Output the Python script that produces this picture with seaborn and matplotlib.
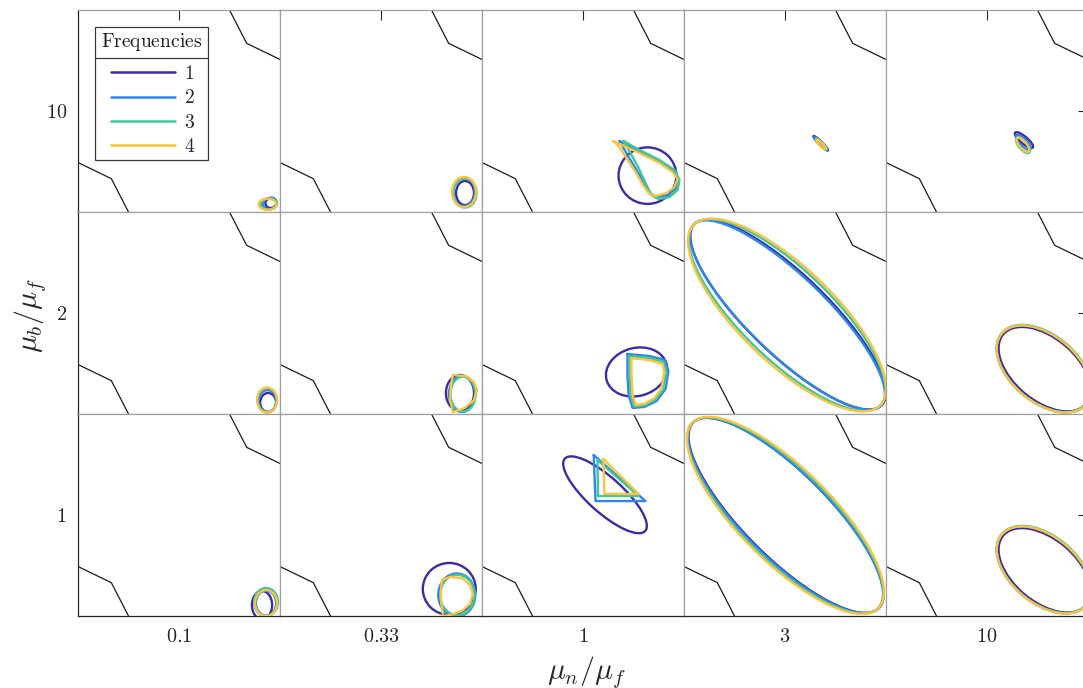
import matplotlib

matplotlib.use("Agg")

import matplotlib.pyplot as plt
import seaborn as sns
from matplotlib.lines import Line2D
from matplotlib.patches import Ellipse, Rectangle

sns.set_theme(style="white")
plt.rcParams.update({
    "font.family": ["DejaVu Serif"],
    "mathtext.fontset": "cm",
    "figure.facecolor": "white",
    "axes.facecolor": "white",
})

# Axis categories
mu_n_labels = ["0.1", "0.33", "1", "3", "10"]
mu_b_labels = ["10", "2", "1"]          # top row to bottom row
freq_labels = ["1", "2", "3", "4"]
freq_colors = ["#3b2ca6", "#2f87ec", "#3ec79b", "#fbc23c"]

# Boundary polylines drawn in every panel (panel-local units)
bound_up_x = [0.75, 0.835, 1.0]
bound_up_y = [1.0, 0.835, 0.755]
bound_lo_x = [0.0, 0.165, 0.25]
bound_lo_y = [0.245, 0.165, 0.0]

# Elliptic loops: (row, col, freq, cx, cy, width, height, angle)
ellipses_b10 = [
    (0, 0, 0, 0.955, 0.045, 0.055, 0.050, 20),
    (0, 0, 1, 0.950, 0.042, 0.070, 0.055, 10),
    (0, 0, 2, 0.945, 0.040, 0.080, 0.055, 5),
    (0, 0, 3, 0.938, 0.038, 0.088, 0.055, 0),
    (0, 1, 0, 0.916, 0.094, 0.089, 0.119, 0),
    (0, 1, 1, 0.911, 0.099, 0.109, 0.139, 0),
    (0, 1, 2, 0.916, 0.094, 0.114, 0.144, 0),
    (0, 1, 3, 0.911, 0.099, 0.119, 0.149, 0),
    (0, 2, 0, 0.819, 0.180, 0.286, 0.280, 0),
    (0, 3, 0, 0.677, 0.340, 0.100, 0.016, -45),
    (0, 3, 1, 0.678, 0.338, 0.090, 0.016, -45),
    (0, 3, 2, 0.679, 0.336, 0.075, 0.016, -45),
    (0, 3, 3, 0.679, 0.335, 0.065, 0.016, -45),
    (0, 4, 0, 0.683, 0.356, 0.114, 0.035, -40),
    (0, 4, 1, 0.680, 0.345, 0.100, 0.035, -45),
    (0, 4, 2, 0.678, 0.330, 0.095, 0.040, -50),
    (0, 4, 3, 0.678, 0.332, 0.088, 0.035, -50),
]
ellipses_b2 = [
    (1, 0, 0, 0.941, 0.057, 0.079, 0.094, 0),
    (1, 0, 1, 0.938, 0.064, 0.089, 0.109, 0),
    (1, 0, 2, 0.936, 0.069, 0.094, 0.119, 0),
    (1, 0, 3, 0.936, 0.069, 0.099, 0.124, 0),
    (1, 1, 0, 0.891, 0.104, 0.139, 0.178, 0),
    (1, 1, 1, 0.901, 0.099, 0.129, 0.178, 0),
    (1, 1, 2, 0.906, 0.099, 0.124, 0.173, 0),
    (1, 2, 0, 0.765, 0.208, 0.307, 0.238, 15),
    (1, 3, 0, 0.515, 0.492, 1.290, 0.395, -44),
    (1, 3, 1, 0.512, 0.490, 1.290, 0.385, -44),
    (1, 3, 2, 0.510, 0.490, 1.285, 0.445, -44),
    (1, 3, 3, 0.510, 0.490, 1.285, 0.470, -44),
    (1, 4, 0, 0.785, 0.222, 0.535, 0.310, -40),
    (1, 4, 1, 0.782, 0.223, 0.545, 0.327, -40),
    (1, 4, 2, 0.782, 0.225, 0.545, 0.330, -40),
    (1, 4, 3, 0.782, 0.223, 0.545, 0.327, -40),
]
ellipses_b1 = [
    (2, 0, 0, 0.911, 0.054, 0.100, 0.140, 0),
    (2, 0, 1, 0.931, 0.064, 0.100, 0.124, 0),
    (2, 0, 2, 0.931, 0.069, 0.118, 0.139, 0),
    (2, 0, 3, 0.931, 0.064, 0.109, 0.129, 0),
    (2, 1, 0, 0.838, 0.134, 0.262, 0.257, 0),
    (2, 1, 1, 0.875, 0.104, 0.183, 0.213, 0),
    (2, 1, 2, 0.878, 0.104, 0.170, 0.200, 0),
    (2, 2, 0, 0.609, 0.600, 0.535, 0.173, -42),
    (2, 3, 0, 0.505, 0.498, 1.300, 0.420, -45),
    (2, 3, 1, 0.502, 0.498, 1.300, 0.425, -45),
    (2, 3, 2, 0.502, 0.498, 1.300, 0.445, -45),
    (2, 3, 3, 0.502, 0.498, 1.300, 0.460, -45),
    (2, 4, 0, 0.785, 0.226, 0.535, 0.310, -40),
    (2, 4, 1, 0.782, 0.228, 0.545, 0.327, -40),
    (2, 4, 2, 0.782, 0.230, 0.545, 0.330, -40),
    (2, 4, 3, 0.782, 0.228, 0.545, 0.327, -40),
]

# Angular loops: vertex lists (panel-local units)
loop_b10_n1_f2 = [(0.681, 0.351), (0.780, 0.297), (0.879, 0.248), (0.948, 0.203), (0.973, 0.158),
                  (0.958, 0.114), (0.918, 0.084), (0.864, 0.074), (0.829, 0.094), (0.804, 0.139),
                  (0.765, 0.208), (0.720, 0.282)]
loop_b10_n1_f3 = [(0.700, 0.351), (0.780, 0.307), (0.879, 0.257), (0.953, 0.208), (0.978, 0.158),
                  (0.968, 0.109), (0.928, 0.074), (0.874, 0.064), (0.839, 0.084), (0.809, 0.144),
                  (0.775, 0.218), (0.735, 0.292)]
loop_b10_n1_f4 = [(0.651, 0.351), (0.780, 0.292), (0.879, 0.243), (0.943, 0.198), (0.968, 0.163),
                  (0.953, 0.124), (0.913, 0.094), (0.859, 0.079), (0.829, 0.089), (0.800, 0.129),
                  (0.760, 0.198), (0.715, 0.267), (0.676, 0.327)]
loop_b2_n033_f4 = [(0.856, 0.193), (0.921, 0.188), (0.960, 0.158), (0.975, 0.119), (0.960, 0.069),
                   (0.916, 0.030), (0.856, 0.010), (0.842, 0.069), (0.847, 0.144)]
loop_b2_n1_f2 = [(0.720, 0.297), (0.829, 0.287), (0.904, 0.268), (0.923, 0.213), (0.909, 0.124),
                 (0.864, 0.064), (0.804, 0.035), (0.745, 0.030), (0.726, 0.094), (0.720, 0.193)]
loop_b2_n1_f3 = [(0.730, 0.287), (0.829, 0.277), (0.899, 0.258), (0.913, 0.208), (0.899, 0.124),
                 (0.859, 0.072), (0.804, 0.042), (0.752, 0.037), (0.736, 0.094), (0.730, 0.193)]
loop_b2_n1_f4 = [(0.740, 0.277), (0.829, 0.267), (0.894, 0.248), (0.903, 0.208), (0.889, 0.129),
                 (0.854, 0.079), (0.804, 0.050), (0.760, 0.045), (0.745, 0.094), (0.740, 0.193)]
loop_b1_n033_f4 = [(0.802, 0.178), (0.842, 0.193), (0.901, 0.188), (0.941, 0.153), (0.955, 0.109),
                   (0.941, 0.059), (0.901, 0.025), (0.842, 0.005), (0.807, 0.000), (0.797, 0.079),
                   (0.797, 0.129)]
loop_b1_n1_f2 = [(0.553, 0.797), (0.562, 0.569), (0.809, 0.569)]
loop_b1_n1_f3 = [(0.572, 0.772), (0.574, 0.594), (0.775, 0.594)]
loop_b1_n1_f4 = [(0.601, 0.777), (0.606, 0.604), (0.775, 0.604)]

polygon_loops = [
    (0, 2, 1, loop_b10_n1_f2), (0, 2, 2, loop_b10_n1_f3), (0, 2, 3, loop_b10_n1_f4),
    (1, 1, 3, loop_b2_n033_f4),
    (1, 2, 1, loop_b2_n1_f2), (1, 2, 2, loop_b2_n1_f3), (1, 2, 3, loop_b2_n1_f4),
    (2, 1, 3, loop_b1_n033_f4),
    (2, 2, 1, loop_b1_n1_f2), (2, 2, 2, loop_b1_n1_f3), (2, 2, 3, loop_b1_n1_f4),
]

# Figure layout (pixels of a 1083x688 canvas)
W, H = 1083, 688
fig = plt.figure(figsize=(W / 100, H / 100), dpi=100)
left_px, top_px, cell_px = 78, 10, 202
dark = "#262626"
sep = "#a0a0a0"
loop_lw = 1.7

axes = {}
for r in range(3):
    for c in range(5):
        x0 = (left_px + c * cell_px) / W
        y0 = 1 - (top_px + (r + 1) * cell_px) / H
        ax = fig.add_axes([x0, y0, cell_px / W, cell_px / H])
        ax.set_xlim(0, 1)
        ax.set_ylim(0, 1)
        ax.set_xticks([])
        ax.set_yticks([])
        for side, sp in ax.spines.items():
            sp.set_visible(True)
            sp.set_color(sep)
            sp.set_linewidth(0.9)
        if c == 0:
            ax.spines["left"].set_color(dark)
        if r == 2:
            ax.spines["bottom"].set_color(dark)
        axes[(r, c)] = ax

        sns.lineplot(x=bound_up_x, y=bound_up_y, sort=False, estimator=None,
                     color="#1a1a1a", lw=0.9, ax=ax, legend=False)
        sns.lineplot(x=bound_lo_x, y=bound_lo_y, sort=False, estimator=None,
                     color="#1a1a1a", lw=0.9, ax=ax, legend=False)
        ax.set_xlabel("")
        ax.set_ylabel("")

# Ticks on the outer frame, centred on each panel
for c in range(5):
    ax = axes[(2, c)]
    ax.set_xticks([0.5])
    ax.set_xticklabels([f"${mu_n_labels[c]}$"])
    ax.tick_params(axis="x", direction="in", length=7, width=0.8, color=dark,
                   labelsize=14.5, pad=8, labelcolor=dark)
    ax = axes[(0, c)]
    ax.xaxis.set_ticks_position("top")
    ax.set_xticks([0.5])
    ax.set_xticklabels([])
    ax.tick_params(axis="x", direction="in", length=7, width=0.8, color=dark)
for r in range(3):
    ax = axes[(r, 0)]
    ax.set_yticks([0.5])
    ax.set_yticklabels([f"${mu_b_labels[r]}$"])
    ax.tick_params(axis="y", direction="in", length=7, width=0.8, color=dark,
                   labelsize=14.5, pad=8, labelcolor=dark)
    ax = axes[(r, 4)]
    ax.yaxis.set_ticks_position("right")
    ax.set_yticks([0.5])
    ax.set_yticklabels([])
    ax.tick_params(axis="y", direction="in", length=7, width=0.8, color=dark)

# Loops
for group in (ellipses_b10, ellipses_b2, ellipses_b1):
    for r, c, f, cx, cy, w, h, ang in group:
        axes[(r, c)].add_patch(Ellipse((cx, cy), w, h, angle=ang, fill=False,
                                       edgecolor=freq_colors[f], lw=loop_lw, zorder=3 + f))
for r, c, f, pts in polygon_loops:
    xs = [p[0] for p in pts] + [pts[0][0]]
    ys = [p[1] for p in pts] + [pts[0][1]]
    axes[(r, c)].plot(xs, ys, color=freq_colors[f], lw=loop_lw, zorder=3 + f,
                      solid_joinstyle="round", solid_capstyle="round")

# Axis titles
fig.text(586 / W, 1 - 672 / H, r"$\mu_n/\mu_f$", ha="center", va="center", fontsize=21.5, color=dark)
fig.text(30 / W, 1 - 315 / H, r"$\mu_b/\mu_f$", ha="center", va="center", rotation=90,
         fontsize=21.5, color=dark)

# Legend: boxed title over the entries
box_x0, box_y0, box_x1, box_y1, sep_y = 95, 27, 208, 160, 58
fig.add_artist(Rectangle((box_x0 / W, 1 - box_y1 / H), (box_x1 - box_x0) / W, (box_y1 - box_y0) / H,
                         transform=fig.transFigure, facecolor="white", edgecolor="#3a3a3a",
                         lw=0.9, zorder=20))
fig.add_artist(Line2D([box_x0 / W, box_x1 / W], [1 - sep_y / H, 1 - sep_y / H],
                      transform=fig.transFigure, color="#3a3a3a", lw=0.9, zorder=21))
fig.text((box_x0 + box_x1) / 2 / W, 1 - 42 / H, r"$\mathrm{Frequencies}$", ha="center",
         va="center", fontsize=14, color="#1a1a1a", zorder=22)

handles = [Line2D([0], [0], color=col, lw=1.8) for col in freq_colors]
leg = fig.legend(handles, [f"${lab}$" for lab in freq_labels],
                 loc="upper left", bbox_to_anchor=(111 / W, 1 - 65 / H), borderaxespad=0,
                 borderpad=0, frameon=False, fontsize=14, handlelength=3.3,
                 labelspacing=0.33, handletextpad=0.45)
leg.set_zorder(23)

fig.savefig("out.png", dpi=100, facecolor="white")
plt.close(fig)
